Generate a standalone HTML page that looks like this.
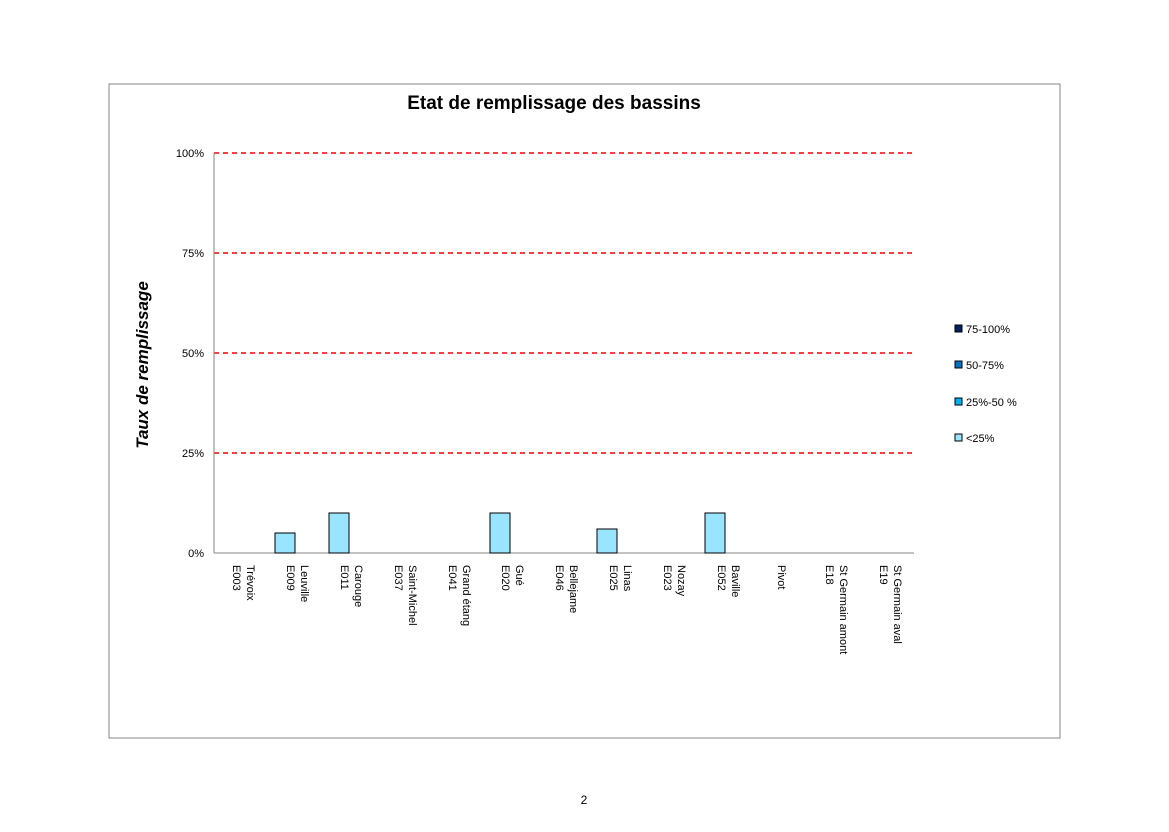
<!DOCTYPE html>
<html><head><meta charset="utf-8"><style>
body{margin:0;background:#fff;}
svg text{font-family:"Liberation Sans",sans-serif;}
</style></head><body>
<svg width="1169" height="827" xmlns="http://www.w3.org/2000/svg">
<rect x="109" y="84" width="951" height="654" fill="#fff" stroke="#868686" stroke-width="1"/>
<text x="554" y="109" font-size="19" font-weight="bold" text-anchor="middle">Etat de remplissage des bassins</text>
<g stroke="#ff0000" stroke-width="1.4" stroke-dasharray="5,4">
<line x1="214" y1="153" x2="914" y2="153"/><line x1="214" y1="253" x2="914" y2="253"/>
<line x1="214" y1="353" x2="914" y2="353"/><line x1="214" y1="453" x2="914" y2="453"/>
</g>
<line x1="214" y1="153" x2="214" y2="553" stroke="#868686"/>
<line x1="214" y1="553" x2="914" y2="553" stroke="#868686"/>
<g font-size="11" text-anchor="end">
<text x="204" y="157">100%</text><text x="204" y="257">75%</text><text x="204" y="357">50%</text><text x="204" y="457">25%</text><text x="204" y="557">0%</text>
</g>
<text transform="translate(148,365) rotate(-90)" font-size="17" font-weight="bold" font-style="italic" text-anchor="middle">Taux de remplissage</text>
<g fill="#99e5ff" stroke="#000" stroke-width="1">
<rect x="275" y="533" width="20" height="20"/>
<rect x="329" y="513" width="20" height="40"/>
<rect x="490" y="513" width="20" height="40"/>
<rect x="597" y="529" width="20" height="24"/>
<rect x="705" y="513" width="20" height="40"/>
</g>
<g font-size="11">
<g transform="translate(247,565) rotate(90)"><text x="0" y="0">Trévoix</text><text x="0" y="14">E003</text></g>
<g transform="translate(301,565) rotate(90)"><text x="0" y="0">Leuville</text><text x="0" y="14">E009</text></g>
<g transform="translate(355,565) rotate(90)"><text x="0" y="0">Carouge</text><text x="0" y="14">E011</text></g>
<g transform="translate(409,565) rotate(90)"><text x="0" y="0">Saint-Michel</text><text x="0" y="14">E037</text></g>
<g transform="translate(463,565) rotate(90)"><text x="0" y="0">Grand étang</text><text x="0" y="14">E041</text></g>
<g transform="translate(516,565) rotate(90)"><text x="0" y="0">Gué</text><text x="0" y="14">E020</text></g>
<g transform="translate(570,565) rotate(90)"><text x="0" y="0">Bellejame</text><text x="0" y="14">E046</text></g>
<g transform="translate(624,565) rotate(90)"><text x="0" y="0">Linas</text><text x="0" y="14">E025</text></g>
<g transform="translate(678,565) rotate(90)"><text x="0" y="0">Nozay</text><text x="0" y="14">E023</text></g>
<g transform="translate(732,565) rotate(90)"><text x="0" y="0">Baville</text><text x="0" y="14">E052</text></g>
<g transform="translate(778,565) rotate(90)"><text x="0" y="0">Pivot</text></g>
<g transform="translate(840,565) rotate(90)"><text x="0" y="0">St Germain amont</text><text x="0" y="14">E18</text></g>
<g transform="translate(894,565) rotate(90)"><text x="0" y="0">St Germain aval</text><text x="0" y="14">E19</text></g>
</g>
<g font-size="11" stroke-width="1">
<rect x="955" y="325" width="7" height="7" fill="#002060" stroke="#000"/><text x="966" y="333">75-100%</text>
<rect x="955" y="361" width="7" height="7" fill="#0070c0" stroke="#000"/><text x="966" y="369">50-75%</text>
<rect x="955" y="398" width="7" height="7" fill="#00b0f0" stroke="#000"/><text x="966" y="406">25%-50 %</text>
<rect x="955" y="434" width="7" height="7" fill="#99e5ff" stroke="#000"/><text x="966" y="442">&lt;25%</text>
</g>
<text x="584" y="804" font-size="12" text-anchor="middle">2</text>
</svg>
</body></html>
